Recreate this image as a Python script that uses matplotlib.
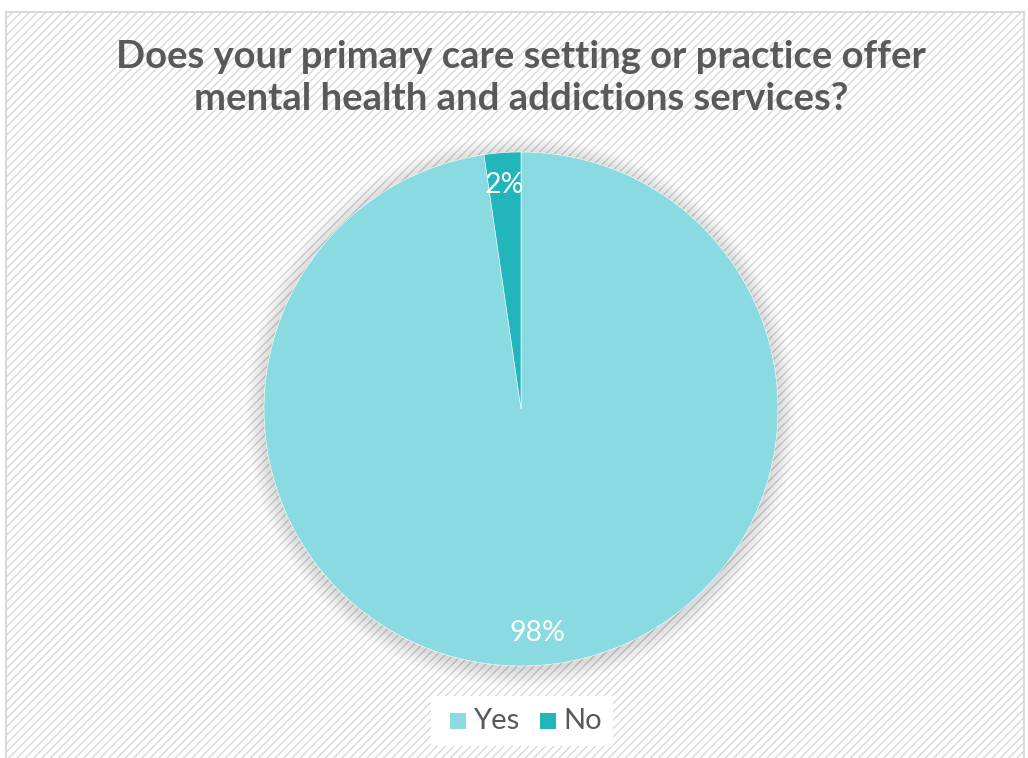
import matplotlib
matplotlib.use("Agg")
import matplotlib.pyplot as plt
from matplotlib.patches import Rectangle, Circle

categories = ["Yes", "No"]
values = [97.7, 2.3]
colors = ["#8ADBE1", "#22B5BC"]
title = "Does your primary care setting or practice offer\nmental health and addictions services?"

W, H = 1028, 758
plt.rcParams["hatch.color"] = "#F2F2F2"
plt.rcParams["hatch.linewidth"] = 1.0
fig = plt.figure(figsize=(W / 100, H / 100), dpi=100)
fig.patch.set_facecolor("white")

# background with diagonal hatch and border
bg = Rectangle((6 / W, -0.01), 1018 / W, (H - 12) / H + 0.01, transform=fig.transFigure,
               facecolor="white", edgecolor="#D9D9D9", lw=1.5, hatch="////", zorder=-2)
fig.patches.append(bg)

cx, cy, r = 521, 409, 257
ax = fig.add_axes([(cx - r) / W, (H - cy - r) / H, 2 * r / W, 2 * r / H])
ax.set_zorder(1)
ax.patch.set_visible(False)

# soft shadow
for i in range(12):
    ax.add_patch(Circle((0, -0.01), 1 + 0.006 * (12 - i), facecolor="black",
                        alpha=0.012, lw=0, zorder=0, clip_on=False))

wedges, texts, autotexts = ax.pie(
    values, colors=colors, startangle=90, counterclock=False, radius=1,
    autopct="%.0f%%", pctdistance=0.875,
    wedgeprops=dict(edgecolor="white", linewidth=0.4),
    textprops=dict(color="white", fontsize=20.5, fontfamily="Lato"))
for w in wedges:
    w.set_zorder(2)
    w.set_clip_on(False)
for t in autotexts:
    t.set_zorder(3)
ax.set_xlim(-1, 1)
ax.set_ylim(-1, 1)
ax.set_aspect("equal")
ax.axis("off")

fig.text(521 / W, 1 - 78 / H, title, ha="center", va="center", color="#595959",
         fontsize=27.5, fontweight="bold", fontfamily="Lato", linespacing=1.28)

# legend box
fig.patches.append(Rectangle((431 / W, 1 - 746 / H), 182 / W, 50 / H,
                             transform=fig.transFigure, facecolor="white",
                             edgecolor="none", zorder=1))
lx = [450, 540]
for i, cat in enumerate(categories):
    fig.patches.append(Rectangle((lx[i] / W, 1 - 729 / H), 16 / W, 16 / H,
                                 transform=fig.transFigure, facecolor=colors[i],
                                 edgecolor="none", zorder=2))
    fig.text((lx[i] + 23) / W, 1 - 721 / H, cat, ha="left", va="center",
             color="#595959", fontsize=21, fontfamily="Lato", zorder=3)

fig.savefig("out.png", dpi=100, facecolor="white")
